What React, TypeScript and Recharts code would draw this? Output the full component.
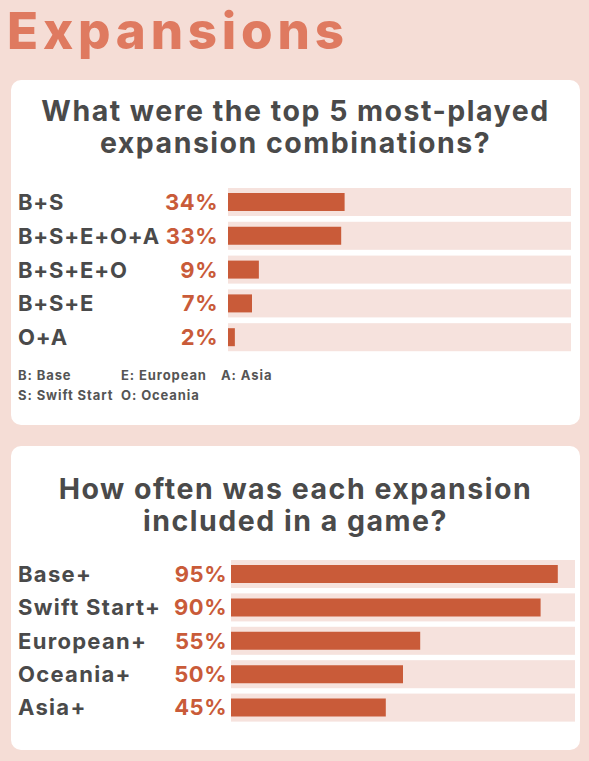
import React from "react"
import { BarChart, Bar, XAxis, YAxis } from "recharts"

type Row = { name: string; value: number }

const comboNames: string[] = ["B+S", "B+S+E+O+A", "B+S+E+O", "B+S+E", "O+A"]
const comboShares: number[] = [34, 33, 9, 7, 2]

const expansionNames: string[] = ["Base+", "Swift Start+", "European+", "Oceania+", "Asia+"]
const expansionShares: number[] = [95, 90, 55, 50, 45]

const legendItems: string[][] = [
  ["B: Base", "E: European", "A: Asia"],
  ["S: Swift Start", "O: Oceania"],
]

const combos: Row[] = comboNames.map((name, i) => ({ name, value: comboShares[i] }))
const expansions: Row[] = expansionNames.map((name, i) => ({ name, value: expansionShares[i] }))

const PAGE_BG = "#f5ddd6"
const BAR = "#c95b39"
const TRACK = "#f6e2dd"
const DARK = "#4a4a4a"
const FONT = "Inter, 'Noto Sans', sans-serif"

// taller pale track behind each bar
const Track = (props: any) => {
  const { x, y, width, height } = props
  return <rect x={x} y={y - 5} width={width} height={height + 10} fill={TRACK} />
}

const makeTick = (rows: Row[], pctRight: number, spacing: number) => (props: any) => {
  const { y, payload } = props
  const row = rows.find((r) => r.name === payload.value)
  return (
    <g>
      <text x={18} y={y} dy={8} textAnchor="start" fill={DARK} fontSize={22} fontWeight={700} fontFamily={FONT} letterSpacing={spacing}>
        {payload.value}
      </text>
      <text x={pctRight} y={y} dy={8} textAnchor="end" fill={BAR} fontSize={22} fontWeight={700} fontFamily={FONT} letterSpacing={0.5}>
        {row ? `${row.value}%` : ""}
      </text>
    </g>
  )
}

type PanelProps = { rows: Row[]; top: number; height: number; axisWidth: number; right: number; pctRight: number; spacing: number }

const Panel: React.FC<PanelProps> = ({ rows, top, height, axisWidth, right, pctRight, spacing }) => (
  <div style={{ position: "absolute", left: 0, top }}>
    <BarChart width={589} height={height} data={rows} layout="vertical" margin={{ top: 0, right, bottom: 0, left: 0 }}>
      <XAxis type="number" domain={[0, 100]} hide />
      <YAxis
        type="category"
        dataKey="name"
        width={axisWidth}
        axisLine={false}
        tickLine={false}
        interval={0}
        tick={makeTick(rows, pctRight, spacing)}
      />
      <Bar dataKey="value" fill={BAR} barSize={18} background={<Track />} isAnimationActive={false} />
    </BarChart>
  </div>
)

const card: React.CSSProperties = {
  position: "absolute",
  left: 11,
  width: 569,
  background: "#ffffff",
  borderRadius: 10,
}

const heading: React.CSSProperties = {
  position: "absolute",
  left: 0,
  width: 591,
  textAlign: "center",
  fontFamily: FONT,
  fontWeight: 700,
  fontSize: 28.5,
  lineHeight: "32px",
  letterSpacing: 1.5,
  color: DARK,
  margin: 0,
}

const App: React.FC = () => {
  return (
    <div style={{ position: "absolute", left: 0, top: 0, width: 589, height: 761, background: PAGE_BG, overflow: "hidden", fontFamily: FONT }}>
      <div style={{ position: "absolute", left: 7, top: 0, fontSize: 51, lineHeight: "normal", fontWeight: 800, letterSpacing: 4.8, color: "#df7a60", whiteSpace: "nowrap" }}>
        Expansions
      </div>

      <div style={{ ...card, top: 80, height: 345 }} />
      <div style={{ ...card, top: 446, height: 304 }} />

      <div style={{ ...heading, top: 95 }}>
        What were the top 5 most-played
        <br />
        expansion combinations?
      </div>
      <div style={{ ...heading, top: 473 }}>
        How often was each expansion
        <br />
        included in a game?
      </div>

      <Panel rows={combos} top={185} height={169} axisWidth={228} right={18} pctRight={218} spacing={0.8} />
      <Panel rows={expansions} top={557} height={167} axisWidth={231} right={14} pctRight={227} spacing={1.3} />

      {legendItems.map((line, li) => (
        <div key={li} style={{ position: "absolute", top: 369 + li * 20, left: 0 }}>
          {line.map((t, i) => (
            <span
              key={t}
              style={{ position: "absolute", left: [18, 121, 221][i], whiteSpace: "nowrap", fontSize: 13, lineHeight: "13px", fontWeight: 700, letterSpacing: 0.9, color: "#555555" }}
            >
              {t}
            </span>
          ))}
        </div>
      ))}
    </div>
  )
}

export default App
